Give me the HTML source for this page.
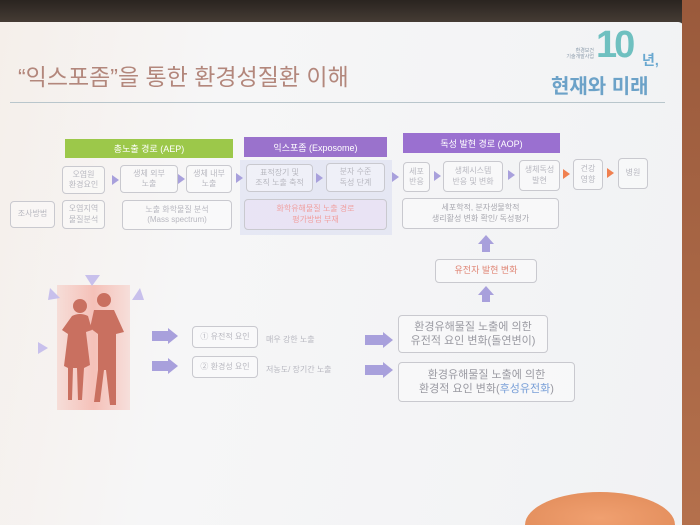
<!DOCTYPE html>
<html><head><meta charset="utf-8"><style>
html,body{margin:0;width:700px;height:525px;overflow:hidden;}
body{position:relative;background:#eceef0;font-family:"Liberation Sans","Noto Sans CJK KR",sans-serif;}
.a{position:absolute;box-sizing:border-box;}
.b{position:absolute;box-sizing:border-box;border:1.5px solid #c9c9cf;border-radius:4px;display:flex;align-items:center;justify-content:center;text-align:center;color:#b8b8c0;font-size:8px;line-height:1.3;background:rgba(255,255,255,.4);}
.h{position:absolute;color:#fff;font-size:9px;display:flex;align-items:center;justify-content:center;}
.ar{position:absolute;width:0;height:0;border-top:5px solid transparent;border-bottom:5px solid transparent;border-left:7px solid #a8a0dc;}
</style></head><body>
<div class="a" style="left:0;top:0;width:700px;height:26px;background:linear-gradient(#2a2420,#4a4038);"></div>
<div class="a" style="left:0;top:22px;width:684px;height:503px;background:linear-gradient(100deg,#f5efea 0%,#f6f6f7 30%,#f1f2f4 100%);border-top-right-radius:6px;"></div>
<div class="a" style="left:682px;top:0;width:18px;height:525px;background:linear-gradient(#9a5a3c,#b4704c);"></div>
<div class="a" style="left:18px;top:58px;font-size:23px;color:#b3877c;white-space:nowrap;">“익스포좀”을 통한 환경성질환 이해</div>
<div class="a" style="left:10px;top:102px;width:655px;height:1px;background:#b9c6cc;"></div>
<div class="a" style="left:558px;top:48px;font-size:5px;color:#8a9aaa;line-height:1.2;text-align:right;width:36px;">환경보건<br>기술개발사업</div>
<div class="a" style="left:596px;top:24px;font-size:38px;font-weight:bold;color:#6fc0c0;letter-spacing:-3px;">10</div>
<div class="a" style="left:642px;top:50px;font-size:14px;font-weight:bold;color:#6aa8d0;">년,</div>
<div class="a" style="left:551px;top:70px;font-size:20px;font-weight:bold;color:#6ca2c8;white-space:nowrap;">현재와 미래</div>

<div class="h" style="left:65px;top:139px;width:168px;height:19px;background:#9cc84a;">총노출 경로 (AEP)</div>
<div class="h" style="left:244px;top:137px;width:143px;height:20px;background:#9a72cc;">익스포좀 (Exposome)</div>
<div class="h" style="left:403px;top:133px;width:157px;height:20px;background:#9a70d0;">독성 발현 경로 (AOP)</div>
<div class="a" style="left:240px;top:160px;width:152px;height:75px;background:rgba(210,215,240,.45);"></div>

<div class="b" style="left:62px;top:166px;width:43px;height:28px;">오염원<br>환경요인</div>
<div class="ar" style="left:112px;top:175px"></div>
<div class="b" style="left:120px;top:165px;width:58px;height:28px;">생체 외부<br>노출</div>
<div class="ar" style="left:178px;top:174px"></div>
<div class="b" style="left:186px;top:165px;width:46px;height:28px;">생체 내부<br>노출</div>
<div class="ar" style="left:236px;top:173px"></div>
<div class="b" style="left:246px;top:164px;width:67px;height:28px;">표적장기 및<br>조직 노출 축적</div>
<div class="ar" style="left:316px;top:173px"></div>
<div class="b" style="left:326px;top:163px;width:59px;height:29px;">분자 수준<br>독성 단계</div>
<div class="ar" style="left:392px;top:172px"></div>
<div class="b" style="left:403px;top:162px;width:27px;height:30px;">세포<br>반응</div>
<div class="ar" style="left:434px;top:171px"></div>
<div class="b" style="left:443px;top:161px;width:60px;height:31px;">생체시스템<br>반응 및 변화</div>
<div class="ar" style="left:508px;top:170px"></div>
<div class="b" style="left:519px;top:160px;width:41px;height:31px;">생체독성<br>발현</div>
<div class="ar" style="left:563px;top:169px;border-left-color:#f08050"></div>
<div class="b" style="left:573px;top:159px;width:30px;height:31px;">건강<br>영향</div>
<div class="ar" style="left:607px;top:168px;border-left-color:#f08050"></div>
<div class="b" style="left:618px;top:158px;width:30px;height:31px;">병원</div>

<div class="b" style="left:10px;top:201px;width:45px;height:27px;">조사방법</div>
<div class="b" style="left:62px;top:200px;width:43px;height:29px;">오염지역<br>물질분석</div>
<div class="b" style="left:122px;top:200px;width:110px;height:30px;">노출 화학물질 분석<br>(Mass spectrum)</div>
<div class="b" style="left:244px;top:199px;width:143px;height:31px;color:#f0a0a0;background:rgba(235,225,245,.6);">화학유해물질 노출 경로<br>평가방법 부재</div>
<div class="b" style="left:402px;top:198px;width:157px;height:31px;color:#a8a8b0;">세포학적, 분자생물학적<br>생리활성 변화 확인/ 독성평가</div>

<div class="a" style="left:478px;top:235px;width:0;height:0;border-left:8px solid transparent;border-right:8px solid transparent;border-bottom:9px solid #a8a0dc;"></div>
<div class="a" style="left:482px;top:243px;width:8px;height:9px;background:#a8a0dc;"></div>
<div class="b" style="left:435px;top:259px;width:102px;height:24px;font-size:9px;color:#e08878;">유전자 발현 변화</div>
<div class="a" style="left:478px;top:286px;width:0;height:0;border-left:8px solid transparent;border-right:8px solid transparent;border-bottom:9px solid #a8a0dc;"></div>
<div class="a" style="left:482px;top:294px;width:8px;height:8px;background:#a8a0dc;"></div>

<div class="a" style="left:57px;top:285px;width:73px;height:125px;background:linear-gradient(90deg,rgba(245,190,180,.4),rgba(245,180,170,.8),rgba(245,190,180,.4));"></div>
<svg class="a" style="left:20px;top:260px" width="150" height="160">
<g fill="#c8c0ec"><polygon points="65,15 80,15 72,26"/><polygon points="30,28 40,38 28,40"/><polygon points="120,28 112,40 124,40"/><polygon points="18,82 28,88 18,94"/></g>
<g fill="#c97060">
<circle cx="60" cy="46" r="7"/><path d="M52,56 Q60,52 68,56 L72,70 L66,72 L70,105 L64,108 L62,140 L58,140 L57,108 L53,108 L52,140 L48,140 L48,108 L44,106 L48,74 L42,70 Z"/>
<circle cx="84" cy="40" r="7"/><path d="M74,50 L94,50 L104,72 L96,74 L96,110 L96,145 L90,145 L86,110 L84,110 L80,142 L74,142 L78,110 L78,74 L70,68 Z"/>
</g></svg>

<div class="a" style="left:152px;top:331px;width:16px;height:10px;background:#a8a0dc;"></div><div class="ar" style="left:168px;top:328px;border-top-width:8px;border-bottom-width:8px;border-left-width:10px"></div>
<div class="a" style="left:152px;top:361px;width:16px;height:10px;background:#a8a0dc;"></div><div class="ar" style="left:168px;top:358px;border-top-width:8px;border-bottom-width:8px;border-left-width:10px"></div>
<div class="b" style="left:192px;top:326px;width:66px;height:22px;">① 유전적 요인</div>
<div class="b" style="left:192px;top:356px;width:66px;height:22px;">② 환경성 요인</div>
<div class="a" style="left:266px;top:334px;font-size:8px;color:#b8b8c0;">매우 강한 노출</div>
<div class="a" style="left:266px;top:364px;font-size:8px;color:#b8b8c0;">저농도/ 장기간 노출</div>
<div class="a" style="left:365px;top:335px;width:18px;height:10px;background:#a8a0dc;"></div><div class="ar" style="left:383px;top:332px;border-top-width:8px;border-bottom-width:8px;border-left-width:10px"></div>
<div class="a" style="left:365px;top:365px;width:18px;height:10px;background:#a8a0dc;"></div><div class="ar" style="left:383px;top:362px;border-top-width:8px;border-bottom-width:8px;border-left-width:10px"></div>
<div class="b" style="left:398px;top:315px;width:150px;height:38px;font-size:11px;color:#9a9aa2;"><div>환경유해물질 노출에 의한<br>유전적 요인 변화(돌연변이)</div></div>
<div class="b" style="left:398px;top:362px;width:177px;height:40px;font-size:11px;color:#9a9aa2;"><div>환경유해물질 노출에 의한<br>환경적 요인 변화(<span style="color:#7aa0d8">후성유전화</span>)</div></div>

<div class="a" style="left:525px;top:492px;width:150px;height:33px;border-radius:75px 75px 0 0 / 33px 33px 0 0;background:radial-gradient(ellipse at 50% 80%,#f0a070,#e08a58);"></div>
</body></html>
